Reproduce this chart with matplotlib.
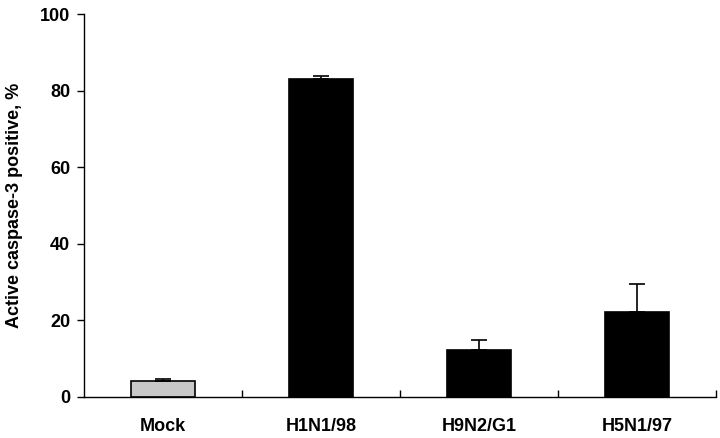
import matplotlib
matplotlib.use("Agg")
import matplotlib.pyplot as plt

# data
groups = ["Mock", "H1N1/98", "H9N2/G1", "H5N1/97"]
values = [4.2, 82.9, 12.3, 22.1]
errors = [0.5, 0.9, 2.6, 7.3]
colors = ["#c8c8c8", "black", "black", "black"]

plt.rcParams["font.family"] = ["Liberation Sans", "DejaVu Sans"]
plt.rcParams["font.weight"] = "bold"

fig = plt.figure(figsize=(7.2, 4.38), dpi=100)
ax = fig.add_axes([0.117, 0.094, 0.878, 0.874])

x = range(len(groups))
ax.bar(x, values, width=0.405, color=colors, edgecolor="black", linewidth=1.2,
       yerr=[[0] * len(errors), errors], capsize=6,
       error_kw=dict(elinewidth=1.2, capthick=1.2, ecolor="black"))

ax.set_xlim(-0.5, len(groups) - 0.5)
ax.set_ylim(0, 100)
ax.set_yticks([0, 20, 40, 60, 80, 100])
ax.set_xticks(list(x))
ax.set_xticklabels(groups, fontsize=13, fontweight="bold")
ax.set_xticks([i + 0.5 for i in x], minor=True)
ax.tick_params(axis="x", which="major", length=0, pad=15)
ax.tick_params(axis="x", which="minor", direction="in", length=5, width=1)
ax.tick_params(axis="y", direction="out", length=5, width=1, labelsize=13, pad=5)
for lab in ax.get_yticklabels():
    lab.set_fontweight("bold")

ax.set_ylabel("Active caspase-3 positive, %", fontsize=13, fontweight="bold", labelpad=12)

ax.spines["top"].set_visible(False)
ax.spines["right"].set_visible(False)
ax.spines["left"].set_linewidth(1)
ax.spines["bottom"].set_linewidth(1)

fig.savefig("out.png", dpi=100)
